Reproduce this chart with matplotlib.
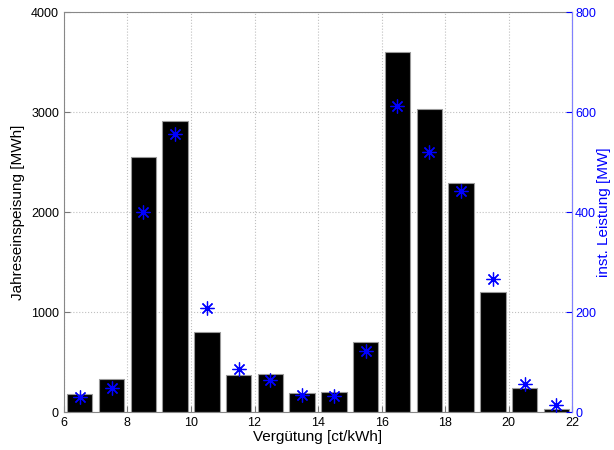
import numpy as np
from matplotlib import pyplot as plt

plt.rcParams['font.family'] = ['Liberation Sans', 'DejaVu Sans']

# Vergütungsklassen (Balkenmitte)
verguetung = [6.5, 7.5, 8.5, 9.5, 10.5, 11.5, 12.5, 13.5,
              14.5, 15.5, 16.5, 17.5, 18.5, 19.5, 20.5, 21.5]
jahreseinspeisung = [180, 330, 2550, 2910, 800, 370, 385, 190,
                     205, 700, 3600, 3030, 2290, 1200, 240, 30]
inst_leistung = [30, 48, 400, 556, 208, 86, 65, 34,
                 32, 122, 612, 520, 442, 266, 56, 14]

fig = plt.figure(figsize=(6.14, 4.5), dpi=100)
ax = fig.add_axes([0.104, 0.084, 0.828, 0.889])
ax.bar(verguetung, jahreseinspeisung, width=0.8, color='black',
       edgecolor='#999999', linewidth=0.8, zorder=2)
ax.set_xlim(6, 22)
ax.set_ylim(0, 4000)
ax.set_xticks(np.arange(6, 23, 2))
ax.set_yticks([0, 1000, 2000, 3000, 4000])
ax.grid(True, linestyle=':', color='#c0c0c0', linewidth=0.8, zorder=0)
ax.set_axisbelow(True)
ax.tick_params(direction='in', labelsize=9, length=4, color='#777777')
ax.set_xlabel('Vergütung [ct/kWh]', fontsize=11, labelpad=1)
ax.set_ylabel('Jahreseinspeisung [MWh]', fontsize=11, labelpad=4)
for s in ax.spines.values():
    s.set_color('#888888')

ax2 = ax.twinx()
ax2.plot(verguetung, inst_leistung, linestyle='none', marker=(8, 2, 0),
         markersize=10, color='blue', markeredgewidth=0.9, zorder=3)
ax2.set_ylim(0, 800)
ax2.set_yticks([0, 200, 400, 600, 800])
ax2.tick_params(direction='in', labelsize=9, length=4, colors='blue', pad=2)
ax2.spines['right'].set_color('#8080ff')
for side in ['left', 'top', 'bottom']:
    ax2.spines[side].set_visible(False)
ax2.set_ylabel('inst. Leistung [MW]', fontsize=11, color='blue', labelpad=1)

fig.savefig('out.png', dpi=100)
